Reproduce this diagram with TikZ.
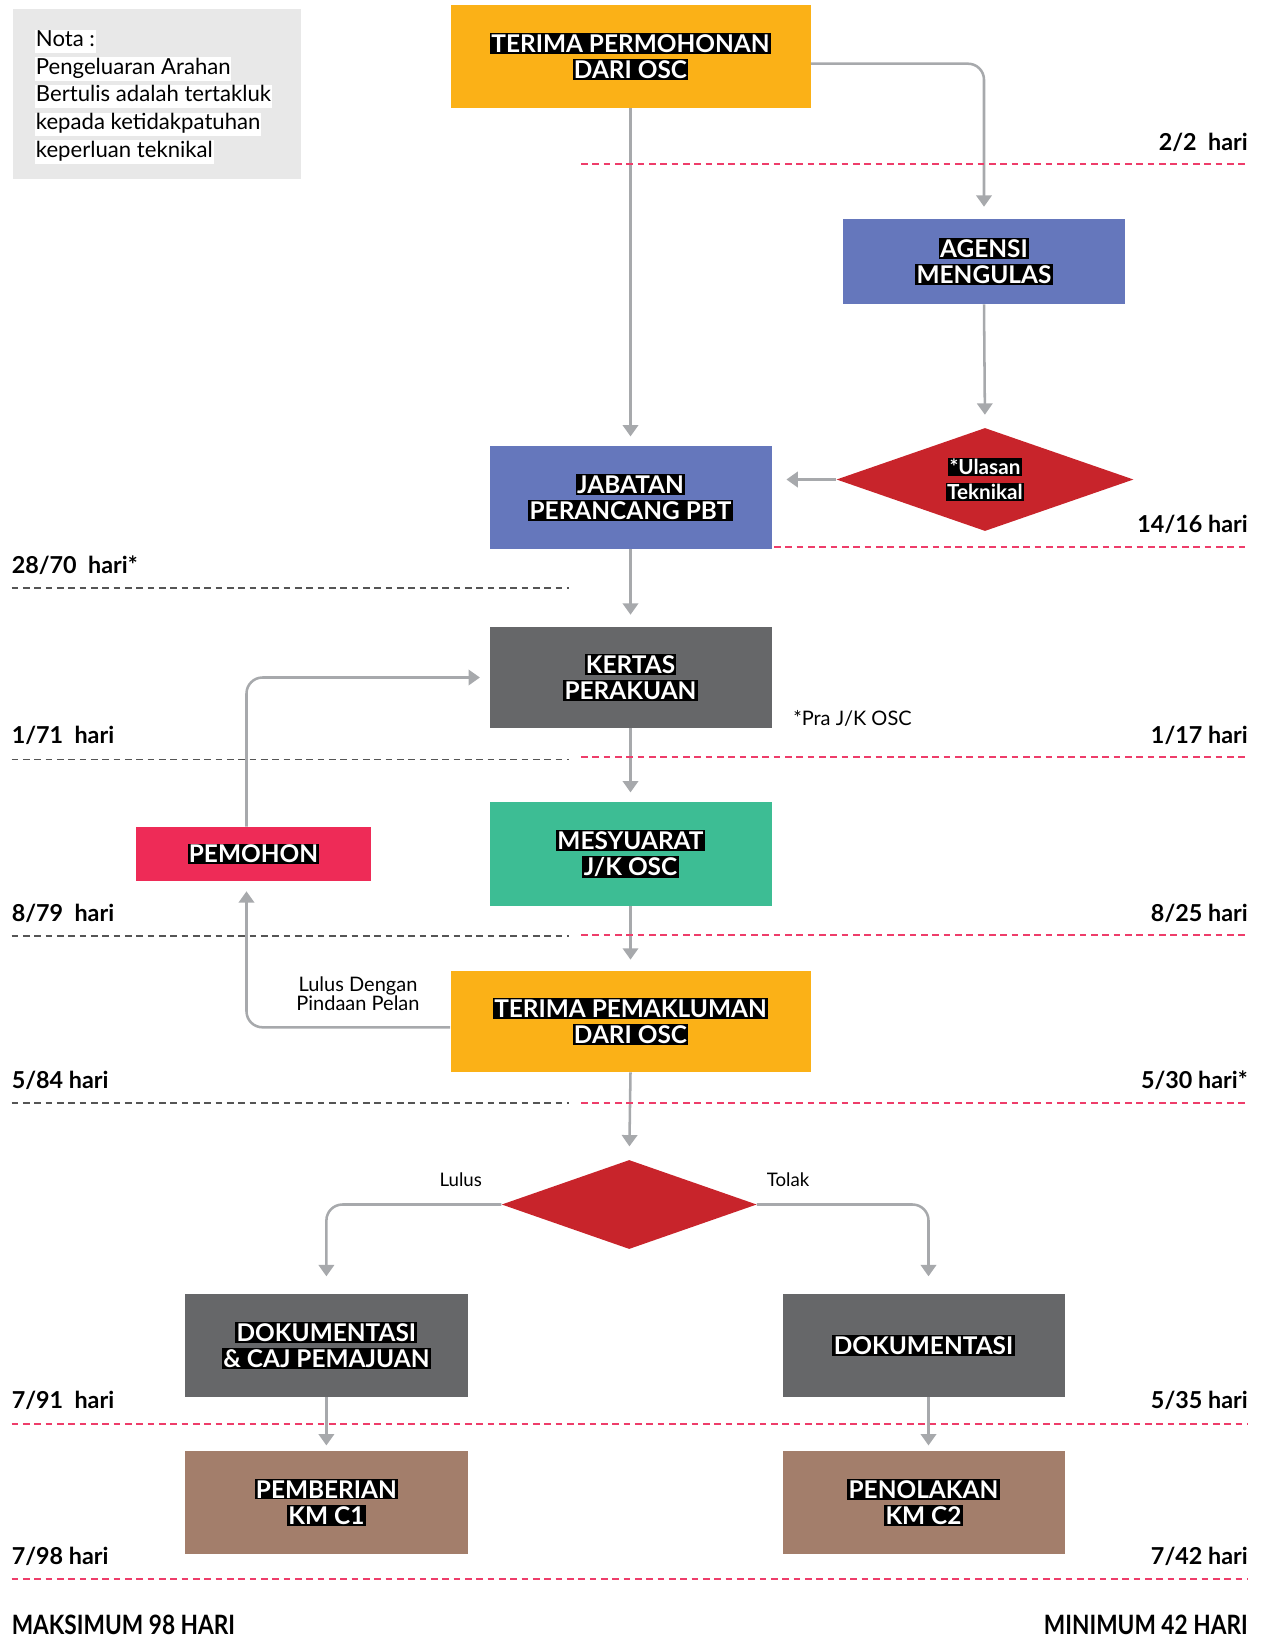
\documentclass[tikz,border=0pt]{standalone}
\usepackage{fontspec}
\setmainfont{Lato}
\usetikzlibrary{shapes.geometric,arrows.meta,calc}
\definecolor{corange}{HTML}{FBB117}
\definecolor{cblue}{HTML}{6577BC}
\definecolor{cred}{HTML}{C8242B}
\definecolor{cgray}{HTML}{666769}
\definecolor{cgreen}{HTML}{3DBD94}
\definecolor{cpink}{HTML}{EE2B57}
\definecolor{cbrown}{HTML}{A37E6B}
\definecolor{cnote}{HTML}{E8E8E8}
\definecolor{cline}{HTML}{A7A9AC}
\definecolor{crdash}{HTML}{EE3D6A}
\definecolor{cgdash}{HTML}{555555}
\newcommand\hlb[1]{{\setlength\fboxsep{1pt}\colorbox{black}{\textcolor{white}{#1}}}}
\newcommand\hlw[1]{{\setlength\fboxsep{0.5pt}\colorbox{white}{\rule[-4.5pt]{0pt}{16.5pt}#1}}}
\begin{document}
\begin{tikzpicture}[x=0.75pt,y=-0.75pt,
  box/.style={rectangle, inner sep=0pt, align=center, font=\fontsize{18.3}{19.5}\selectfont\bfseries},
  dia/.style={diamond, aspect=2.9, inner sep=0pt, align=center, fill=cred},
  conn/.style={draw=cline, line width=1.9pt, rounded corners=12pt, -{Triangle[width=11.5pt,length=8.5pt]}},
  lab/.style={font=\fontsize{17.5}{20}\selectfont\bfseries, inner sep=0pt},
  thin/.style={font=\fontsize{14}{14.25}\selectfont, inner sep=0pt, align=center},
  rdash/.style={draw=crdash, line width=1.5pt, dash pattern=on 5pt off 3.5pt},
  gdash/.style={draw=cgdash, line width=1.3pt, dash pattern=on 5pt off 3.5pt}]
\useasboundingbox (0,0) rectangle (1262,1638);

% note
\node[fill=cnote, minimum width=216.5pt, minimum height=127.5pt, anchor=north west, inner sep=0pt] (nota) at (12.3,9) {};
\node[anchor=north west, inner sep=0pt, align=left, font=\fontsize{16.6}{20.8}\selectfont] (notatext) at (35,29.4)
  {\hlw{Nota :}\\\hlw{Pengeluaran Arahan}\\\hlw{Bertulis adalah tertakluk}\\\hlw{kepada ketidakpatuhan}\\\hlw{keperluan teknikal}};

% boxes
\node[box, fill=corange, minimum width=270pt, minimum height=76.8pt] (b1) at (630.5,56.4) {\hlb{TERIMA PERMOHONAN}\\\hlb{DARI OSC}};
\node[box, fill=cblue, minimum width=211.5pt, minimum height=63.75pt] (ag) at (984,261.5) {\hlb{AGENSI}\\\hlb{MENGULAS}};
\node[dia, minimum width=222.75pt, minimum height=77.25pt, font=\fontsize{15.5}{18.75}\selectfont\bfseries] (ul) at (985,479.5) {\hlb{*Ulasan}\\\hlb{Teknikal}};
\node[box, fill=cblue, minimum width=211.5pt, minimum height=76.9pt] (jab) at (630.5,497.3) {\hlb{JABATAN}\\\hlb{PERANCANG PBT}};
\node[box, fill=cgray, minimum width=211.5pt, minimum height=75.75pt] (kp) at (630.5,677.5) {\hlb{KERTAS}\\\hlb{PERAKUAN}};
\node[box, fill=cgreen, minimum width=211.5pt, minimum height=78pt] (mj) at (630.5,854) {\hlb{MESYUARAT}\\\hlb{J/K OSC}};
\node[box, fill=cpink, minimum width=176.25pt, minimum height=40.5pt] (pm) at (253.5,854) {\hlb{PEMOHON}};
\node[box, fill=corange, minimum width=270pt, minimum height=76.1pt] (tp) at (630.5,1021.3) {\hlb{TERIMA PEMAKLUMAN}\\\hlb{DARI OSC}};
\node[dia, minimum width=191.25pt, minimum height=66.75pt] (dd) at (629.2,1204.5) {};
\node[box, fill=cgray, minimum width=212.25pt, minimum height=77.25pt] (d1) at (326.4,1345.4) {\hlb{DOKUMENTASI}\\\hlb{\& CAJ PEMAJUAN}};
\node[box, fill=cbrown, minimum width=212.25pt, minimum height=76.9pt] (pb) at (326.4,1502.3) {\hlb{PEMBERIAN}\\\hlb{KM C1}};
\node[box, fill=cgray, minimum width=211.5pt, minimum height=77.25pt] (d2) at (923.5,1345.4) {\hlb{DOKUMENTASI}};
\node[box, fill=cbrown, minimum width=211.5pt, minimum height=76.9pt] (pn) at (923.5,1502.3) {\hlb{PENOLAKAN}\\\hlb{KM C2}};

% connectors
\draw[conn, shorten >=7pt] (b1.south) -- (jab.north);
\draw[conn, shorten >=9pt] ($(b1.east)+(0,7.3)$) -| (ag.north);
\draw[conn, shorten >=9.75pt] (ag.south) -- (ul.north);
\draw[conn, shorten >=11pt] (ul.west) -- (jab.east |- ul.west);
\draw[conn, shorten >=9pt] (jab.south) -- (kp.north);
\draw[conn, shorten >=7pt] (kp.south) -- (mj.north);
\draw[conn, shorten >=8pt] (mj.south) -- (tp.north);
\draw[conn, shorten >=10pt] (tp.south) -- (dd.north);
\draw[conn, shorten >=7.5pt] ($(tp.west)+(0,6)$) -| ($(pm.south)+(-7,0)$);
\draw[conn, shorten >=7pt] ($(pm.north)+(-7,0)$) |- (kp.west);
\draw[conn, shorten >=13pt] (dd.west) -| (d1.north);
\draw[conn, shorten >=13pt] (dd.east) -| ($(d2.north)+(5,0)$);
\draw[conn, shorten >=4pt] (d1.south) -- (pb.north);
\draw[conn, shorten >=4pt] ($(d2.south)+(5,0)$) -- ($(pn.north)+(5,0)$);

% dashed time lines
\draw[rdash] (581,164) -- (1248,164);
\draw[rdash] (774,547.4) -- (1248,547.4);
\draw[rdash] (581,757.4) -- (1248,757.4);
\draw[rdash] (581,935) -- (1248,935);
\draw[rdash] (581,1103) -- (1248,1103);
\draw[rdash] (11.5,1423.5) -- (1248,1423.5);
\draw[rdash] (11.5,1578.5) -- (1248,1578.5);
\draw[gdash] (11.5,588) -- (569,588);
\draw[gdash] (11.5,759.5) -- (569,759.5);
\draw[gdash] (11.5,936) -- (569,936);
\draw[gdash] (11.5,1103) -- (569,1103);

% labels
\node[lab, anchor=base east] (l1) at (1248,150) {2/2\ \ hari};
\node[lab, anchor=base east] (l2) at (1248,532.5) {14/16 hari};
\node[lab, anchor=base west] (l3) at (11.5,573.3) {28/70\ \ hari*};
\node[lab, anchor=base west] (l4) at (11.5,743.5) {1/71\ \ hari};
\node[lab, anchor=base east] (l5) at (1248,743.5) {1/17 hari};
\node[lab, anchor=base west] (l6) at (11.5,921) {8/79\ \ hari};
\node[lab, anchor=base east] (l7) at (1248,921) {8/25 hari};
\node[lab, anchor=base west] (l8) at (11.5,1088) {5/84 hari};
\node[lab, anchor=base east] (l9) at (1248,1088) {5/30 hari*};
\node[lab, anchor=base west] (l10) at (11.5,1408) {7/91\ \ hari};
\node[lab, anchor=base east] (l11) at (1248,1408) {5/35 hari};
\node[lab, anchor=base west] (l12) at (11.5,1564.6) {7/98 hari};
\node[lab, anchor=base east] (l13) at (1248,1564.6) {7/42 hari};
\node[lab, anchor=base west, font=\fontsize{20}{22}\selectfont\bfseries] (mx) at (11.5,1634) {\scalebox{0.85}[1]{MAKSIMUM 98 HARI}};
\node[lab, anchor=base east, font=\fontsize{20}{22}\selectfont\bfseries] (mn) at (1248,1634) {\scalebox{0.85}[1]{MINIMUM 42 HARI}};

\node[thin, anchor=base west, font=\fontsize{15}{16}\selectfont] (pra) at (793,725) {*Pra J/K OSC};
\node[thin, anchor=base, font=\fontsize{15}{14.25}\selectfont] (ldp) at (358,1010) {Lulus Dengan\\Pindaan Pelan};
\node[thin, anchor=base] (lulus) at (460.7,1186) {Lulus};
\node[thin, anchor=base] (tolak) at (788,1186) {Tolak};
\end{tikzpicture}
\end{document}
